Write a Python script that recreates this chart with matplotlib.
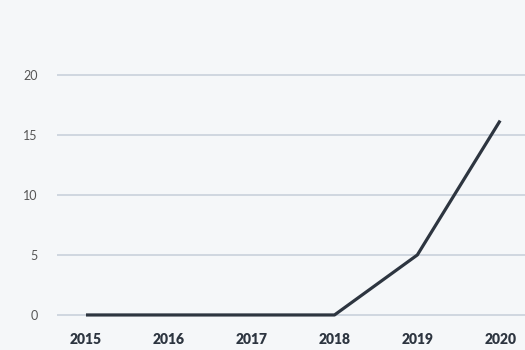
import matplotlib
matplotlib.use("Agg")
import matplotlib.pyplot as plt

years = [2015, 2016, 2017, 2018, 2019, 2020]
values = [0, 0, 0, 0, 5, 16.2]
y_ticks = [0, 5, 10, 15, 20]

bg = "#f5f7f9"
line_color = "#2d3540"
grid_color = "#cdd4de"

plt.rcParams['font.family'] = ['Lato', 'DejaVu Sans']

fig = plt.figure(figsize=(5.25, 3.5), dpi=100, facecolor=bg)
ax = fig.add_axes([57 / 525, 30 / 350, 1 - 57 / 525, 290 / 350])
ax.set_facecolor(bg)

ax.plot(years, values, color=line_color, linewidth=2.3, solid_capstyle="butt", zorder=3)

ax.set_xlim(2014.65, 2020.30)
ax.set_ylim(-0.42, 23.75)
ax.set_yticks(y_ticks)
ax.set_xticks(years)
ax.set_xticklabels([str(y) for y in years], fontweight="heavy", color=line_color, fontsize=10)
ax.set_yticklabels([str(v) for v in y_ticks], color="#555555", fontsize=9)

ax.grid(axis="y", color=grid_color, linewidth=1.3)
ax.set_axisbelow(True)
ax.tick_params(axis="both", length=0)
ax.tick_params(axis="y", pad=14)
ax.tick_params(axis="x", pad=9)
for s in ax.spines.values():
    s.set_visible(False)

fig.savefig("out.png", dpi=100, facecolor=bg)
